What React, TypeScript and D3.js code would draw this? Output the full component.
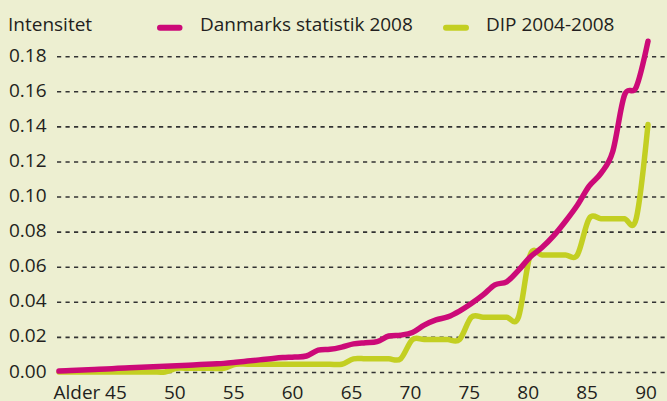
import React from "react";
import * as d3 from "d3";

const ages = [
  40, 41, 42, 43, 44, 45, 46, 47, 48, 49,
  50, 51, 52, 53, 54, 55, 56, 57, 58, 59,
  60, 61, 62, 63, 64, 65, 66, 67, 68, 69,
  70, 71, 72, 73, 74, 75, 76, 77, 78, 79,
  80, 81, 82, 83, 84, 85, 86, 87, 88, 89, 90,
];

// Danmarks statistik 2008
const danmarksStatistik = [
  0.0008, 0.0011, 0.0014, 0.0017, 0.002, 0.0024, 0.0027, 0.003, 0.0033, 0.0036,
  0.0039, 0.0042, 0.0045, 0.0049, 0.0052, 0.0058, 0.0065, 0.0072, 0.0079, 0.0085,
  0.0088, 0.0094, 0.0127, 0.0132, 0.0145, 0.0163, 0.017, 0.0176, 0.0208, 0.0213,
  0.0228, 0.027, 0.03, 0.0317, 0.035, 0.0393, 0.0442, 0.05, 0.0517, 0.0582,
  0.0658, 0.0712, 0.078, 0.0862, 0.0953, 0.1062, 0.1135, 0.1258, 0.158, 0.1627, 0.1888,
];

// DIP 2004-2008
const dip = [
  0.0003, 0.0003, 0.0003, 0.0003, 0.0003, 0.0003, 0.0003, 0.0003, 0.0003, 0.0003,
  0.0024, 0.0024, 0.0024, 0.0024, 0.0024, 0.0047, 0.0047, 0.0047, 0.0047, 0.0047,
  0.0047, 0.0047, 0.0047, 0.0047, 0.0047, 0.0078, 0.0078, 0.0078, 0.0078, 0.0078,
  0.0188, 0.0188, 0.0188, 0.0188, 0.0188, 0.0315, 0.0315, 0.0315, 0.0315, 0.0315,
  0.067, 0.067, 0.067, 0.067, 0.067, 0.0877, 0.0877, 0.0877, 0.0877, 0.0877, 0.1413,
];

const yTicks = [0, 0.02, 0.04, 0.06, 0.08, 0.1, 0.12, 0.14, 0.16, 0.18];
const xTicks = [45, 50, 55, 60, 65, 70, 75, 80, 85, 90];
const seriesNames = ["Danmarks statistik 2008", "DIP 2004-2008"];
const yTitle = "Intensitet";
const xTitle = "Alder";

const W = 667;
const H = 401;
const BG = "#edefd1";
const PINK = "#cc0a78";
const GREEN = "#c3cf22";
const TEXT = "#231f20";
const FONT = "'Open Sans', sans-serif";

export default function App() {
  const x = d3.scaleLinear().domain([40, 90]).range([59, 648]);
  const y = d3.scaleLinear().domain([0, 0.18]).range([372.5, 56.7]);

  const line = d3
    .line<number>()
    .x((_, i) => x(ages[i]))
    .y((d) => y(d))
    .curve(d3.curveCardinal.tension(0));

  return (
    <div style={{ position: "absolute", left: 0, top: 0 }}>
      <svg width={W} height={H} style={{ display: "block" }} fontFamily={FONT}>
        <rect x={0} y={0} width={W} height={H} fill={BG} />
        {yTicks.map((t) => (
          <g key={t}>
            <line
              x1={57}
              x2={W}
              y1={y(t)}
              y2={y(t)}
              stroke="#333"
              strokeWidth={1.6}
              strokeDasharray="4.2 4.3"
            />
            <text x={46.5} y={y(t) + 5} textAnchor="end" fontSize={19} fill={TEXT}>
              {t.toFixed(2)}
            </text>
          </g>
        ))}
        <text x={8} y={31} fontSize={19} fill={TEXT}>
          {yTitle}
        </text>
        <text x={53.5} y={399} fontSize={19} fill={TEXT}>
          {xTitle}
        </text>
        {xTicks.map((t) => (
          <text key={t} x={x(t) - 2} y={399} textAnchor="middle" fontSize={19} fill={TEXT}>
            {t}
          </text>
        ))}
        <path
          d={line(dip) || ""}
          fill="none"
          stroke={GREEN}
          strokeWidth={5.5}
          strokeLinejoin="round"
          strokeLinecap="round"
        />
        <path
          d={line(danmarksStatistik) || ""}
          fill="none"
          stroke={PINK}
          strokeWidth={5.5}
          strokeLinejoin="round"
          strokeLinecap="round"
        />
        {/* legend */}
        <line x1={160} x2={179.5} y1={27.7} y2={27.7} stroke={PINK} strokeWidth={6} strokeLinecap="round" />
        <text x={200} y={31} fontSize={19} fill={TEXT}>
          {seriesNames[0]}
        </text>
        <line x1={446} x2={466} y1={27.7} y2={27.7} stroke={GREEN} strokeWidth={6} strokeLinecap="round" />
        <text x={486} y={31} fontSize={19} fill={TEXT}>
          {seriesNames[1]}
        </text>
      </svg>
    </div>
  );
}
